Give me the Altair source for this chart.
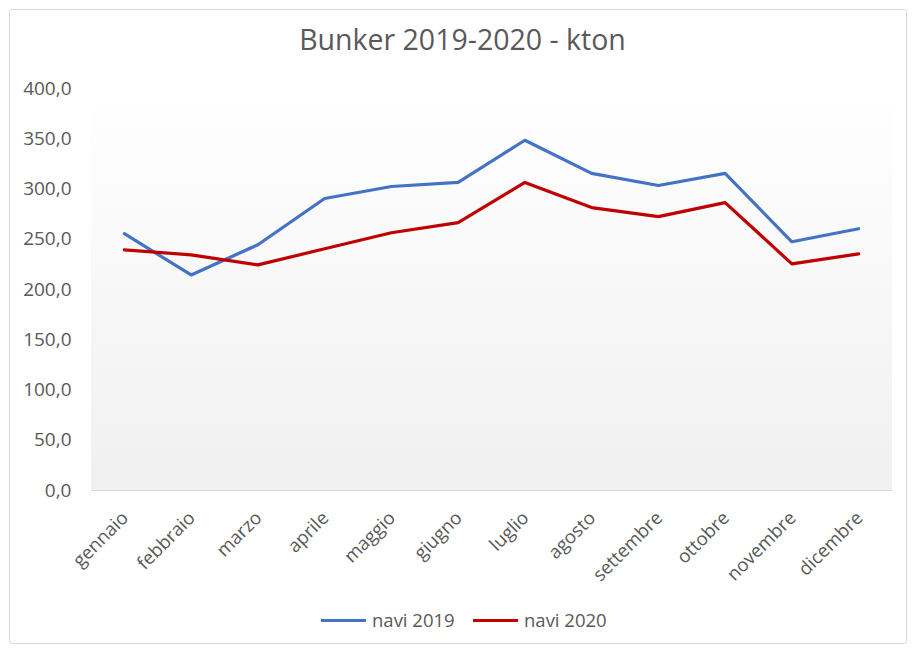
import altair as alt
import pandas as pd

months = ["gennaio", "febbraio", "marzo", "aprile", "maggio", "giugno",
          "luglio", "agosto", "settembre", "ottobre", "novembre", "dicembre"]
navi_2019 = [255, 214, 244, 290, 302, 306, 348, 315, 303, 315, 247, 260]
navi_2020 = [239, 234, 224, 240, 256, 266, 306, 281, 272, 286, 225, 235]
series_names = ["navi 2019", "navi 2020"]
series_colors = ["#4472C4", "#C00000"]
y_ticks = [0, 50, 100, 150, 200, 250, 300, 350, 400]
title_text = ["Bunker 2019-2020 - kton"]

rows = []
for name, vals in zip(series_names, [navi_2019, navi_2020]):
    for m, v in zip(months, vals):
        rows.append({"mese": m, "valore": v, "serie": name})
df = pd.DataFrame(rows)

W, H = 801, 402
PL, PT, PR, PB = 83, 80, 16, 155
FONT = "Open Sans"
GREY = "#595959"

one = pd.DataFrame({"a": [0]})

bg = alt.Chart(one).mark_rect(
    fill=alt.LinearGradient(
        gradient="linear", x1=0, y1=0, x2=0, y2=1,
        stops=[alt.GradientStop(color="#ffffff", offset=0),
               alt.GradientStop(color="#f0f0f0", offset=1)]
    )
).encode(x=alt.value(0), x2=alt.value(W), y=alt.value(0), y2=alt.value(H))

border = alt.Chart(one).mark_rect(
    fill=None, stroke="#d9d9d9", strokeWidth=1, cornerRadius=2
).encode(x=alt.value(-PL + 1.5), x2=alt.value(W + PR - 1.5),
         y=alt.value(-PT + 1.5), y2=alt.value(H + PB - 1.5))

title = alt.Chart(pd.DataFrame({"t": title_text})).mark_text(
    font=FONT, fontSize=28.5, color=GREY, align="center", baseline="alphabetic"
).encode(x=alt.value(371.5), y=alt.value(-38), text="t:N")

lines = alt.Chart(df).mark_line(strokeWidth=3.2, strokeCap="round", strokeJoin="round").encode(
    x=alt.X("mese:N", sort=months,
            scale=alt.Scale(type="point", padding=0.5),
            axis=alt.Axis(title=None, labelAngle=-45, grid=True, gridColor="#d9d9d9",
                          domainColor="#d9d9d9", ticks=False, labelFont=FONT,
                          labelFontSize=18.5, labelColor=GREY, labelPadding=18,
                          labelOffset=-6)),
    y=alt.Y("valore:Q", scale=alt.Scale(domain=[0, 400], nice=False),
            axis=alt.Axis(title=None, values=y_ticks, grid=False, domain=False,
                          ticks=False, labelFont=FONT, labelFontSize=19,
                          labelColor=GREY, labelPadding=20,
                          labelExpr="replace(format(datum.value, '.1f'), '.', ',')")),
    color=alt.Color("serie:N",
                    scale=alt.Scale(domain=series_names, range=series_colors),
                    legend=alt.Legend(title=None, orient="none", legendX=228, legendY=508,
                                      direction="horizontal", symbolType="stroke",
                                      symbolStrokeWidth=3.2, symbolSize=2025,
                                      labelFont=FONT, labelFontSize=18.5, labelColor=GREY,
                                      labelOffset=4, columnPadding=11)),
    detail="serie:N"
)

chart = alt.layer(bg, lines, title, border).properties(
    width=W, height=H,
    padding={"left": PL, "top": PT, "right": PR, "bottom": PB},
    autosize=alt.AutoSizeParams(type="none"),
).configure_view(stroke=None)

chart.save("out.html", embed_options={"renderer": "svg", "actions": False})
